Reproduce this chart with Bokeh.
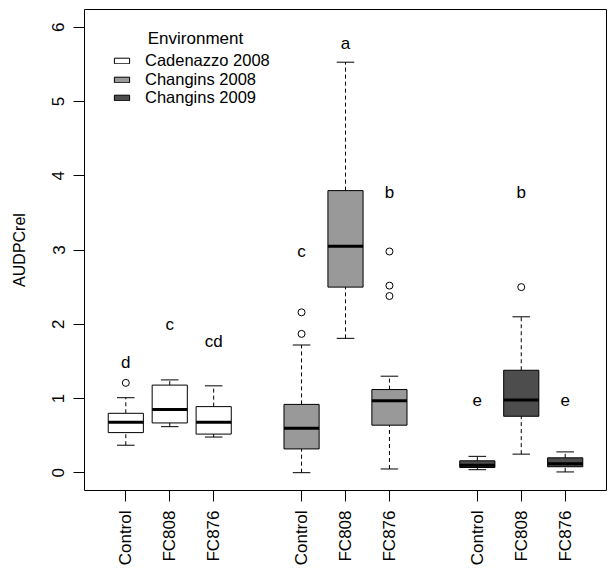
import numpy as np
from bokeh.plotting import figure
from bokeh.models import (ColumnDataSource, FixedTicker, Range1d, Legend,
                          LegendItem, Label)
from bokeh.transform import dodge
from bokeh.core.properties import value
from bokeh.embed import file_html
from bokeh.resources import INLINE

FONT = "Liberation Sans"

environments = ["Cadenazzo 2008", "Changins 2008", "Changins 2009"]
treatments = ["Control", "FC808", "FC876"]
env_colors = ["#ffffff", "#999999", "#4d4d4d"]

# box statistics, treatments in order within each environment
lower = [0.37, 0.62, 0.48, 0.00, 1.81, 0.05, 0.04, 0.25, 0.01]
q1 = [0.54, 0.67, 0.52, 0.32, 2.50, 0.64, 0.07, 0.76, 0.08]
median = [0.68, 0.85, 0.68, 0.60, 3.05, 0.97, 0.10, 0.98, 0.12]
q3 = [0.80, 1.18, 0.89, 0.92, 3.80, 1.12, 0.16, 1.38, 0.20]
upper = [1.01, 1.25, 1.17, 1.72, 5.53, 1.30, 0.22, 2.10, 0.28]
outliers = [[1.21], [], [], [1.87, 2.16], [], [2.38, 2.52, 2.98], [], [2.50], []]

# significance groups written above the boxes
letters = ["d", "c", "cd", "c", "a", "b", "e", "b", "e"]
letter_y = [1.49, 1.99, 1.77, 2.98, 5.78, 3.77, 0.98, 3.77, 0.98]

y_ticks = [0, 1, 2, 3, 4, 5, 6]

# one slot gap between environments
pos = [e * 4 + t + 1 for e in range(len(environments)) for t in range(len(treatments))]
tick_names = [t for _ in environments for t in treatments]
colors = [env_colors[e] for e in range(len(environments)) for _ in treatments]

src = ColumnDataSource(dict(x=pos, lower=lower, q1=q1, med=median, q3=q3,
                            upper=upper, color=colors))

ox = [p_ for p_, o in zip(pos, outliers) for _ in o]
oy = [v for o in outliers for v in o]
out_src = ColumnDataSource(dict(x=ox, y=oy))
let_src = ColumnDataSource(dict(x=pos, y=letter_y, t=letters))

p = figure(width=609, height=574, output_backend="svg", toolbar_location=None,
           x_range=Range1d(0.06, 11.94), y_range=Range1d(-0.24, 6.24),
           min_border_left=84, min_border_right=3, min_border_top=9,
           min_border_bottom=84)
p.background_fill_color = "white"
p.border_fill_color = "white"
p.outline_line_color = "black"
p.outline_line_width = 1
p.xgrid.visible = False
p.ygrid.visible = False

BOXW = 0.8
CAPW = 0.4

# whiskers
p.segment(x0="x", x1="x", y0="q3", y1="upper", source=src, line_color="black",
          line_width=1, line_dash="4 3")
p.segment(x0="x", x1="x", y0="lower", y1="q1", source=src, line_color="black",
          line_width=1, line_dash="4 3")
p.segment(x0=dodge("x", -CAPW / 2), x1=dodge("x", CAPW / 2), y0="upper", y1="upper",
          source=src, line_color="black", line_width=1)
p.segment(x0=dodge("x", -CAPW / 2), x1=dodge("x", CAPW / 2), y0="lower", y1="lower",
          source=src, line_color="black", line_width=1)

# boxes and medians
boxes = p.vbar(x="x", width=BOXW, bottom="q1", top="q3", source=src,
               fill_color="color", line_color="black", line_width=1)
p.segment(x0=dodge("x", -BOXW / 2), x1=dodge("x", BOXW / 2), y0="med", y1="med",
          source=src, line_color="black", line_width=3)

# outlying points
p.scatter(x="x", y="y", source=out_src, marker="circle", size=7,
          fill_color=None, line_color="black", line_width=1)

# group letters
p.text(x="x", y="y", text="t", source=let_src, text_font=value(FONT),
       text_font_size="17px", text_align="center", text_baseline="middle",
       text_color="black")

# axes
p.xaxis.ticker = FixedTicker(ticks=pos)
p.xaxis.major_label_overrides = {x: n for x, n in zip(pos, tick_names)}
p.xaxis.major_label_orientation = np.pi / 2
p.yaxis.ticker = FixedTicker(ticks=y_ticks)
p.yaxis.major_label_orientation = "parallel"
p.yaxis.axis_label = "AUDPCrel"
for ax in (p.xaxis[0], p.yaxis[0]):
    ax.axis_line_color = None
    ax.major_tick_line_color = "black"
    ax.major_tick_out = 11
    ax.major_tick_in = 0
    ax.minor_tick_line_color = None
    ax.major_label_text_font = FONT
    ax.major_label_text_font_size = "17px"
    ax.major_label_text_color = "black"
    ax.major_label_standoff = 9
ax = p.yaxis[0]
ax.axis_label_text_font = FONT
ax.axis_label_text_font_size = "16px"
ax.axis_label_text_font_style = "normal"
ax.axis_label_text_color = "black"
ax.axis_label_standoff = 22

# legend: one entry per row, rows packed tighter than a single Legend allows
row_offsets = [420, 401.5, 383]
for e, env in enumerate(environments):
    lg = Legend(items=[LegendItem(label=env, renderers=[boxes], index=e * 3)],
                location=(28, row_offsets[e]), padding=0, margin=0,
                border_line_color=None, background_fill_alpha=0,
                glyph_width=19, glyph_height=7, label_standoff=14, spacing=0,
                label_height=16, label_text_font=FONT, label_text_font_size="16.5px",
                label_text_color="black", label_text_baseline="middle")
    p.add_layout(lg)
p.add_layout(Label(x=111, y=452, x_units="screen", y_units="screen",
                   text="Environment", text_font=FONT, text_font_size="17px",
                   text_align="center", text_baseline="middle", text_color="black"))

open("out.html", "w").write(file_html(p, INLINE))
